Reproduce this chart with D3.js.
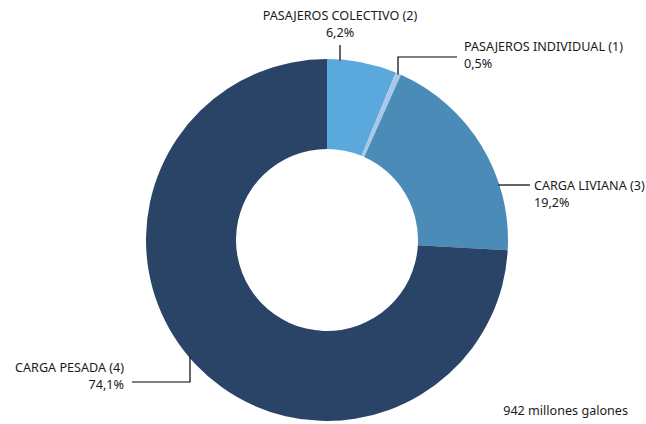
<!DOCTYPE html>
<html><head><meta charset="utf-8">
<script src="https://cdn.jsdelivr.net/npm/d3@7"></script>
<style>body{margin:0;background:#fff}svg{display:block}text{font-family:"Noto Sans",sans-serif;font-size:12.6px;fill:#1a1a1a}</style>
</head><body>
<script>
const categories = ["PASAJEROS COLECTIVO (2)", "PASAJEROS INDIVIDUAL (1)", "CARGA LIVIANA (3)", "CARGA PESADA (4)"];
const values = [6.2, 0.5, 19.2, 74.1];
const valueLabels = ["6,2%", "0,5%", "19,2%", "74,1%"];
const colors = ["#5ba8dc", "#a9c7ea", "#4a8bb7", "#2a4468"];
const footer = "942 millones galones";

const W = 646, H = 424, cx = 327, cy = 240, R = 181, r = 91;
const svg = d3.select("body").append("svg").attr("width", W).attr("height", H);
const g = svg.append("g").attr("transform", `translate(${cx},${cy})`);
const pie = d3.pie().sort(null).value(d => d)(values);
const arc = d3.arc().innerRadius(r).outerRadius(R);
g.selectAll("path").data(pie).enter().append("path")
  .attr("d", arc).attr("fill", (d, i) => colors[i]);

// label layout: leader polylines (relative to page) and text anchors
const yOn = (x, sign) => cy + sign * Math.sqrt(R * R - (x - cx) * (x - cx));
const layout = [
  {pts: [[340, yOn(340, -1) + 1], [340, 45]], tx: 340, ty: 20, anchor: "middle"},
  {pts: [[398, yOn(398, -1) + 1], [398, 57], [457, 57]], tx: 464, ty: 51, anchor: "start"},
  {pts: [[500, 185], [530, 185]], tx: 534, ty: 190, anchor: "start"},
  {pts: [[190, yOn(190, 1) - 1], [190, 382], [132, 382]], tx: 124, ty: 372, anchor: "end"}
];
layout[2].pts[0][0] = cx + Math.sqrt(R * R - (185 - cy) * (185 - cy)) - 1;

layout.forEach((L, i) => {
  svg.append("polyline").attr("points", L.pts.map(p => p.join(",")).join(" "))
    .attr("fill", "none").attr("stroke", "#000").attr("stroke-width", 1.2);
  const t = svg.append("text").attr("text-anchor", L.anchor);
  t.append("tspan").attr("x", L.tx).attr("y", L.ty).text(categories[i]);
  t.append("tspan").attr("x", L.tx).attr("y", L.ty + 17).text(valueLabels[i]);
});
svg.append("text").attr("x", 628).attr("y", 415).attr("text-anchor", "end").text(footer);
</script>
</body></html>
